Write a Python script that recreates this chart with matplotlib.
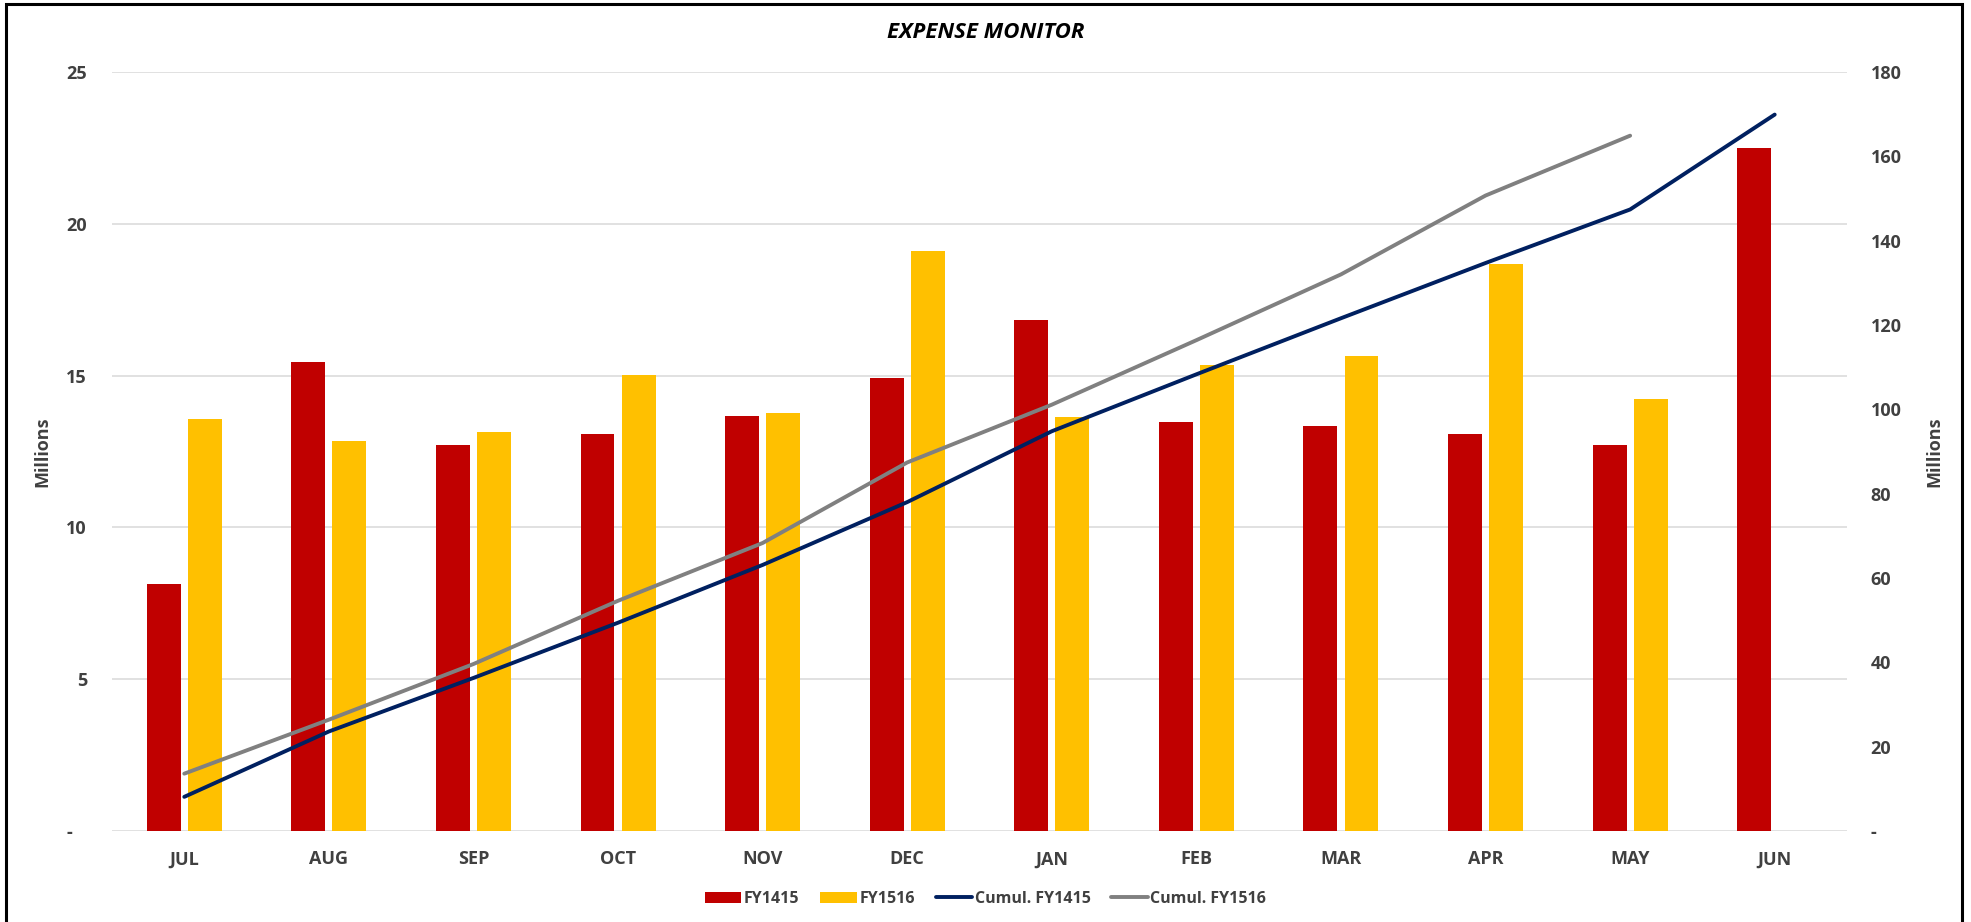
import numpy as np
import matplotlib
matplotlib.use("Agg")
import matplotlib.pyplot as plt
from matplotlib.patches import Rectangle
from matplotlib.ticker import FixedLocator, FuncFormatter

plt.rcParams['font.family'] = ['Open Sans', 'DejaVu Sans']

# -----------------------------
# data (values in millions)
# -----------------------------
months = ["JUL", "AUG", "SEP", "OCT", "NOV", "DEC",
          "JAN", "FEB", "MAR", "APR", "MAY", "JUN"]
fy1415 = [8.13, 15.46, 12.73, 13.06, 13.68, 14.93,
          16.83, 13.47, 13.35, 13.06, 12.73, 22.51]
fy1516 = [13.56, 12.85, 13.14, 15.01, 13.76, 19.11,
          13.64, 15.34, 15.63, 18.66, 14.22]
cum_fy1415 = [8.1, 23.6, 36.3, 49.4, 63.1, 78.0,
              94.8, 108.3, 121.6, 134.7, 147.4, 169.9]
cum_fy1516 = [13.6, 26.4, 39.6, 54.6, 68.3, 87.4,
              101.1, 116.4, 132.0, 150.7, 164.9]

left_ticks = [0, 5, 10, 15, 20, 25]
right_ticks = [0, 20, 40, 60, 80, 100, 120, 140, 160, 180]

RED = "#C00000"
YELLOW = "#FFC000"
NAVY = "#002060"
GRAY = "#808080"
TXT = "#404040"

fig = plt.figure(figsize=(19.71, 9.22), dpi=100)
ax = fig.add_axes([112 / 1971, 1 - 831 / 922, (1847 - 112) / 1971, (831 - 72) / 922])
ax2 = ax.twinx()

x = np.arange(len(months))
w = 0.235
off = 0.142
ax.bar(x - off, fy1415, width=w, color=RED, label="FY1415", zorder=2)
ax.bar(x[:len(fy1516)] + off, fy1516, width=w, color=YELLOW, label="FY1516", zorder=2)

ax2.plot(x, cum_fy1415, color=NAVY, lw=2.8, label="Cumul. FY1415",
         solid_capstyle="round", zorder=3)
ax2.plot(x[:len(cum_fy1516)], cum_fy1516, color=GRAY, lw=2.8, label="Cumul. FY1516",
         solid_capstyle="round", zorder=3)

ax.set_xlim(-0.5, 11.5)
ax.set_ylim(0, 25)
ax2.set_ylim(0, 180)

ax.yaxis.set_major_locator(FixedLocator(left_ticks))
ax.yaxis.set_major_formatter(FuncFormatter(lambda v, p: "-   " if v == 0 else f"{v:g}"))
ax2.yaxis.set_major_locator(FixedLocator(right_ticks))
ax2.yaxis.set_major_formatter(FuncFormatter(lambda v, p: "-" if v == 0 else f"{v:g}"))

ax.set_xticks(x)
ax.set_xticklabels(months)

ax.grid(axis="y", color="#D9D9D9", lw=1.1, zorder=0)
ax.set_axisbelow(True)
for a in (ax, ax2):
    for s in a.spines.values():
        s.set_visible(False)
    a.tick_params(length=0, colors=TXT, labelsize=13)
    for lab in a.get_xticklabels() + a.get_yticklabels():
        lab.set_fontweight("bold")
ax.tick_params(axis="y", pad=18)
ax2.tick_params(axis="y", pad=17)
ax.tick_params(axis="x", pad=14)

ax.set_ylabel("Millions", color=TXT, fontsize=13, fontweight="bold", labelpad=0)
ax.yaxis.set_label_coords(-0.035, 0.5)
ax2.set_ylabel("Millions", color=TXT, fontsize=13, fontweight="bold", rotation=90)
ax2.yaxis.set_label_coords(1.045, 0.5)

fig.text(0.5, 1 - 33 / 922, "EXPENSE MONITOR", ha="center", va="center",
         fontsize=16, fontweight="bold", fontstyle="italic", color="black")

h1, l1 = ax.get_legend_handles_labels()
h2, l2 = ax2.get_legend_handles_labels()
leg = fig.legend(h1 + h2, l1 + l2, loc="center", bbox_to_anchor=(0.5, 1 - 899 / 922),
                 ncol=4, frameon=False, fontsize=11.5, handlelength=2.3,
                 handletextpad=0.15, columnspacing=1.3)
for t in leg.get_texts():
    t.set_color(TXT)
    t.set_fontweight("bold")

# outer border of the chart area
fig.patches.append(Rectangle((6 / 1971, -0.01), (1962 - 6) / 1971, 1 - 4 / 922 + 0.01,
                             transform=fig.transFigure, fill=False, ec="black", lw=2.2))

fig.savefig("out.png", dpi=100, facecolor="white")
